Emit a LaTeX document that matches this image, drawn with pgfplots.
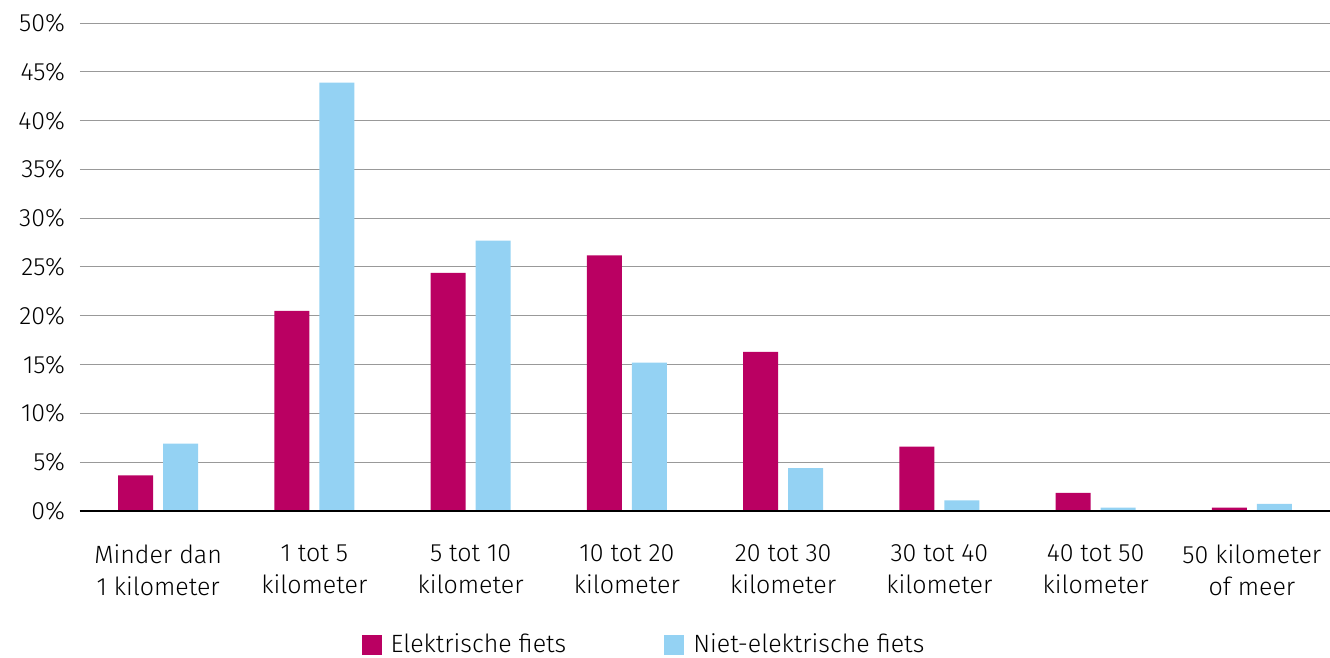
\documentclass[border=0pt]{standalone}
\usepackage{pgfplots}
\pgfplotsset{compat=1.18}
\usepackage{fontspec}
\setmainfont{Fira Sans}[UprightFont=* Light]
\definecolor{ebike}{RGB}{186,0,98}
\definecolor{nbike}{RGB}{148,210,243}
\begin{document}
\begin{tikzpicture}
\begin{axis}[
  name=ax,
  scale only axis,
  width=625pt, height=244pt,
  xmin=-0.5, xmax=7.5, ymin=0, ymax=50,
  ytick={0,5,...,50},
  xtick={0,1,2,3,4,5,6,7},
  xticklabels={{Minder dan\\1 kilometer},{1 tot 5\\kilometer},{5 tot 10\\kilometer},{10 tot 20\\kilometer},{20 tot 30\\kilometer},{30 tot 40\\kilometer},{40 tot 50\\kilometer},{50 kilometer\\of meer}},
  xticklabel style={align=center, font=\fontsize{12.5}{15.7}\selectfont, yshift=-13.5pt},
  yticklabel={\pgfmathprintnumber{\tick}\%},
  yticklabel style={font=\fontsize{12.5}{15}\selectfont, xshift=-4pt},
  /pgf/number format/assume math mode=true,
  major tick length=0pt,
  tick style={draw=none},
  ymajorgrids,
  grid style={draw=black!40, line width=0.5pt},
  axis lines*=left,
  separate axis lines,
  y axis line style={draw=none},
  x axis line style={draw=black, line width=0.8pt},
  legend columns=2,
  legend style={draw=none, at={(0.452,-0.2746)}, anchor=center, font=\fontsize{12.5}{15}\selectfont, /tikz/every even column/.append style={column sep=47pt}},
  legend image code/.code={\fill[#1] (0pt,-5pt) rectangle (10pt,5pt);},
  clip=false,
]
\addplot[ybar, bar width=17.5pt, bar shift=-11.25pt, fill=ebike, draw=none] coordinates {
(0,3.65) (1,20.5) (2,24.4) (3,26.2) (4,16.3) (5,6.6) (6,1.85) (7,0.35)};
\addlegendentry{\hspace{2.5pt}Elektrische fiets}
\addplot[ybar, bar width=17.5pt, bar shift=11.25pt, fill=nbike, draw=none] coordinates {
(0,6.9) (1,43.9) (2,27.7) (3,15.2) (4,4.4) (5,1.1) (6,0.35) (7,0.73)};
\addlegendentry{\hspace{2.5pt}Niet-elektrische fiets}
\draw[black, line width=0.8pt] (rel axis cs:0,0) -- (rel axis cs:1,0);
\coordinate (tl) at (rel axis cs:0,1);
\coordinate (br) at (rel axis cs:1,0);
\end{axis}
\pgfresetboundingbox
\path ([shift={(-40pt,11.5pt)}]tl) rectangle ([yshift=-73.5pt]br);
\end{tikzpicture}
\end{document}
